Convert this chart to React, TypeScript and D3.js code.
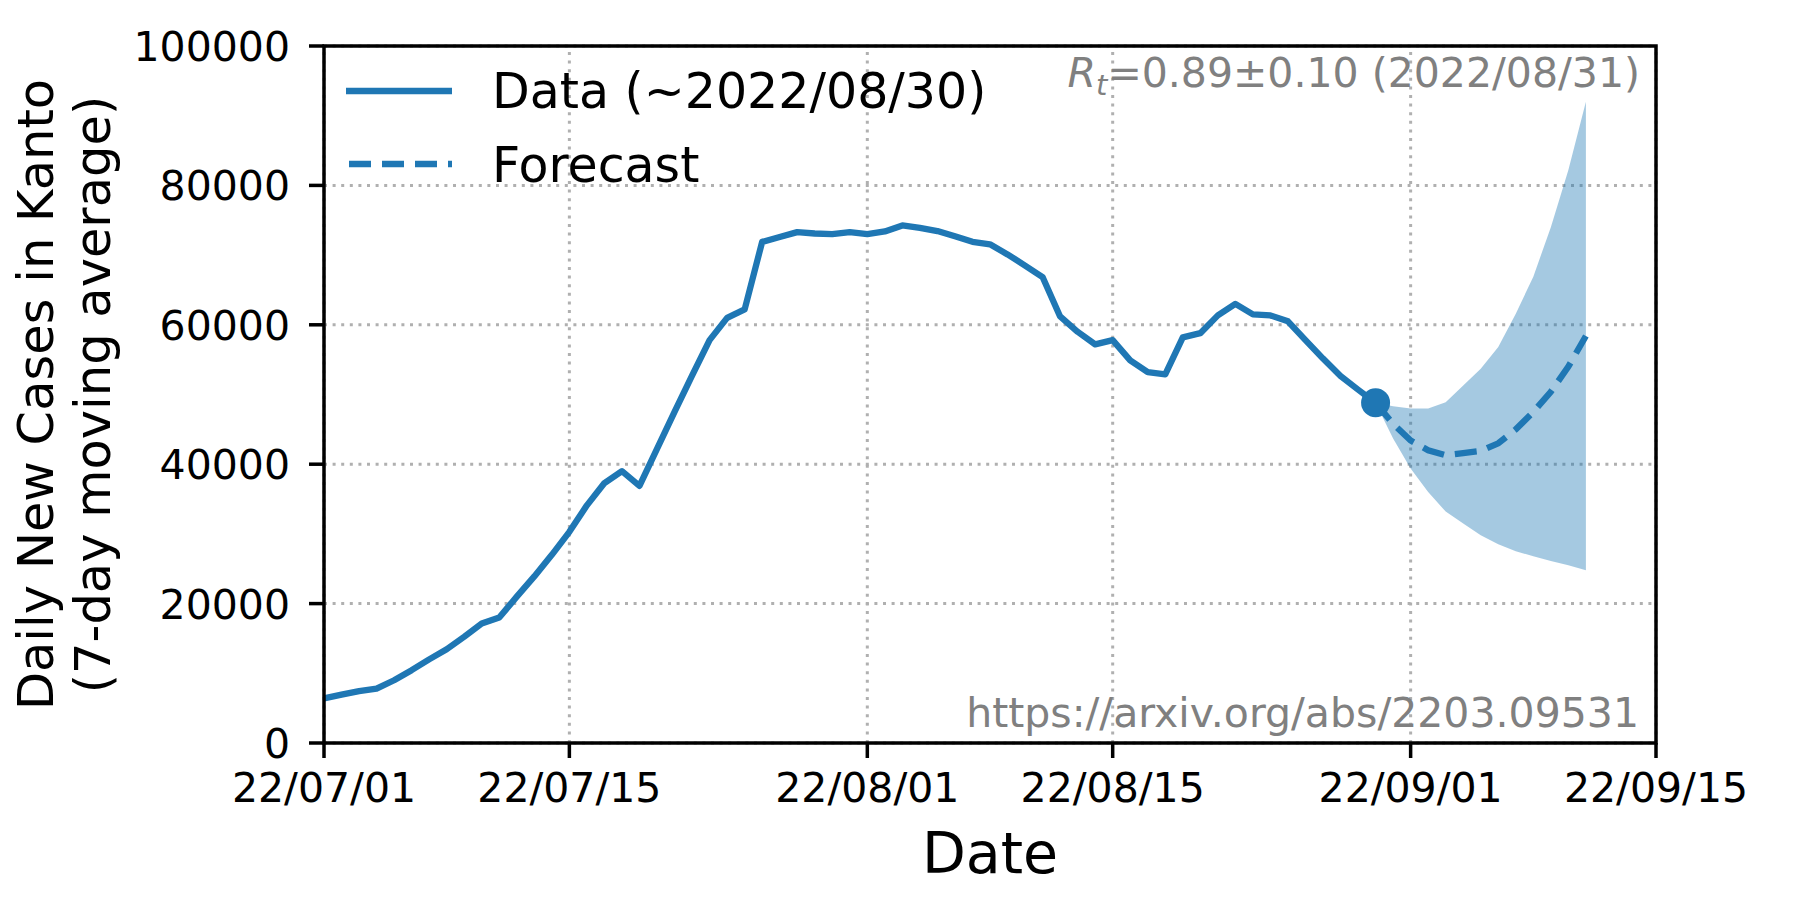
import React from 'react';
import * as d3 from 'd3';

// daily new cases (7-day moving average), 2022/07/01 .. 2022/08/30
const startDate = new Date(Date.UTC(2022, 6, 1));
const observed = [
    6400, 6950, 7450, 7800, 9000, 10450, 12000, 13450, 15250, 17150,
    18000, 21000, 23900, 27000, 30300, 34100, 37300, 39000, 36900, 42200,
    47500, 52700, 57800, 61000, 62200, 71900, 72600, 73300, 73100, 73000,
    73300, 73000, 73400, 74250, 73900, 73450, 72700, 71900, 71550, 70100,
    68500, 66850, 61200, 59000, 57200, 57800, 54900, 53200, 52900, 58200,
    58800, 61350, 63000, 61500, 61350, 60500, 57800, 55150, 52650, 50700,
    48800,
];

// forecast 2022/08/30 .. 2022/09/11
const forecastStart = new Date(Date.UTC(2022, 7, 30));
const forecastMid = [48800, 45800, 43400, 42000, 41300, 41600, 41900, 43000, 45000, 47500, 50400, 54000, 58400];
const forecastHigh = [48800, 48300, 48000, 48000, 48900, 51300, 53700, 56800, 61600, 66900, 74000, 82200, 92000];
const forecastLow = [48800, 43700, 39400, 36000, 33200, 31500, 29800, 28500, 27500, 26800, 26100, 25500, 24800];

const xTickDates = ['2022-07-01', '2022-07-15', '2022-08-01', '2022-08-15', '2022-09-01', '2022-09-15'];
const xTickLabels = ['22/07/01', '22/07/15', '22/08/01', '22/08/15', '22/09/01', '22/09/15'];
const yTicks = [0, 20000, 40000, 60000, 80000, 100000];

const legendLabels = ['Data (~2022/08/30)', 'Forecast'];
const rtText = '=0.89±0.10 (2022/08/31)';
const urlText = 'https://arxiv.org/abs/2203.09531';

const W = 1800;
const H = 900;
const margin = { top: 46, right: 144, bottom: 157, left: 324 };
const blue = '#1f77b4';
const font = '"DejaVu Sans", Verdana, sans-serif';

const App: React.FC = () => {
    const x = d3.scaleUtc()
        .domain([new Date(Date.UTC(2022, 6, 1)), new Date(Date.UTC(2022, 8, 15))])
        .range([margin.left, W - margin.right]);
    const y = d3.scaleLinear()
        .domain([0, 100000])
        .range([H - margin.bottom, margin.top]);

    const obsPts = observed.map((v, i) => ({ d: d3.utcDay.offset(startDate, i), v }));
    const fcPts = forecastMid.map((v, i) => ({
        d: d3.utcDay.offset(forecastStart, i),
        v,
        hi: forecastHigh[i],
        lo: forecastLow[i],
    }));

    const line = d3.line<{ d: Date; v: number }>()
        .x(p => x(p.d))
        .y(p => y(p.v));
    const band = d3.area<{ d: Date; hi: number; lo: number }>()
        .x(p => x(p.d))
        .y0(p => y(p.lo))
        .y1(p => y(p.hi));

    const x0 = x.range()[0];
    const x1 = x.range()[1];
    const y0 = y.range()[0];
    const y1 = y.range()[1];
    const last = obsPts[obsPts.length - 1];

    return (
        <svg width={W} height={H} style={{ position: 'absolute', left: 0, top: 0, background: '#fff' }}
            fontFamily={font}>
            <rect x={0} y={0} width={W} height={H} fill="#fff" />

            {/* grid */}
            <g stroke="#b0b0b0" strokeWidth={3} strokeDasharray="3 5.6">
                {xTickDates.map(t => {
                    const xp = x(new Date(t + 'T00:00:00Z'));
                    return <line key={t} x1={xp} x2={xp} y1={y0} y2={y1} />;
                })}
                {yTicks.map(t => (
                    <line key={t} x1={x0} x2={x1} y1={y(t)} y2={y(t)} />
                ))}
            </g>

            {/* forecast band */}
            <path d={band(fcPts) || ''} fill={blue} fillOpacity={0.4} stroke="none" />

            {/* observed */}
            <path d={line(obsPts) || ''} fill="none" stroke={blue} strokeWidth={6.3} strokeLinejoin="round" />

            {/* forecast */}
            <path d={line(fcPts) || ''} fill="none" stroke={blue} strokeWidth={6.3} strokeDasharray="22 11" />

            <circle cx={x(last.d)} cy={y(last.v)} r={14.5} fill={blue} />

            {/* spines */}
            <rect x={x0} y={y1} width={x1 - x0} height={y0 - y1} fill="none" stroke="#000" strokeWidth={3.5} />

            {/* y ticks */}
            {yTicks.map(t => (
                <g key={t}>
                    <line x1={x0 - 15} x2={x0} y1={y(t)} y2={y(t)} stroke="#000" strokeWidth={3.5} />
                    <text x={x0 - 34} y={y(t) + 15} textAnchor="end" fontSize={41} fill="#000">{t}</text>
                </g>
            ))}

            {/* x ticks */}
            {xTickDates.map((t, i) => {
                const xp = x(new Date(t + 'T00:00:00Z'));
                return (
                    <g key={t}>
                        <line x1={xp} x2={xp} y1={y0} y2={y0 + 15} stroke="#000" strokeWidth={3.5} />
                        <text x={xp} y={y0 + 59} textAnchor="middle" fontSize={41} fill="#000">{xTickLabels[i]}</text>
                    </g>
                );
            })}

            {/* axis labels */}
            <text x={(x0 + x1) / 2} y={873} textAnchor="middle" fontSize={57} fill="#000">Date</text>
            <text transform={`translate(53,${(y0 + y1) / 2}) rotate(-90)`} textAnchor="middle" fontSize={49.5} fill="#000">
                Daily New Cases in Kanto
            </text>
            <text transform={`translate(110,${(y0 + y1) / 2}) rotate(-90)`} textAnchor="middle" fontSize={49.5} fill="#000">
                (7-day moving average)
            </text>

            {/* annotations */}
            <text x={x1 - 16} y={87} textAnchor="end" fontSize={41} fill="#808080">
                <tspan fontStyle="italic">R</tspan>
                <tspan fontStyle="italic" fontSize={29} dy={8}>t</tspan>
                <tspan dy={-8}>{rtText}</tspan>
            </text>
            <text x={x1 - 17} y={727} textAnchor="end" fontSize={41} fill="#808080">{urlText}</text>

            {/* legend */}
            <line x1={346} x2={452} y1={91} y2={91} stroke={blue} strokeWidth={6.3} />
            <line x1={349} x2={452} y1={164} y2={164} stroke={blue} strokeWidth={6.3} strokeDasharray="22 11" />
            <text x={492} y={108} fontSize={49} fill="#000">{legendLabels[0]}</text>
            <text x={492} y={182} fontSize={49} fill="#000">{legendLabels[1]}</text>
        </svg>
    );
};

export default App;
